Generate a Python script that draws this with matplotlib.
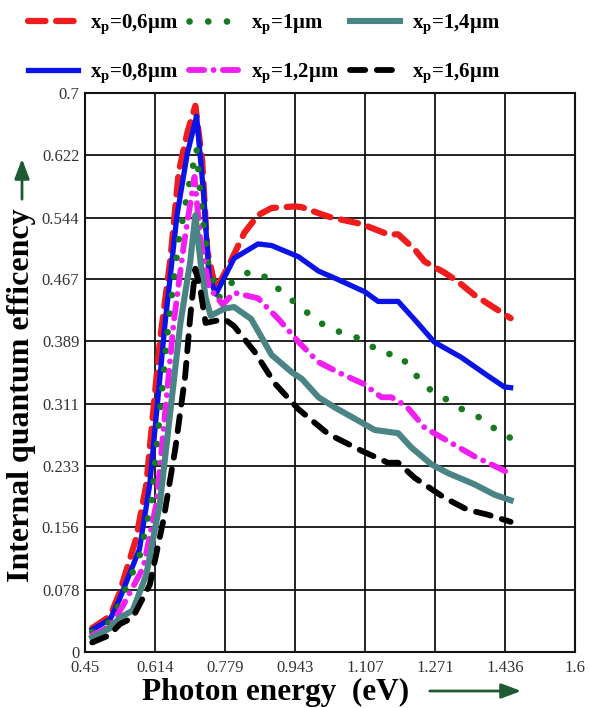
import matplotlib
matplotlib.use("Agg")
import matplotlib.pyplot as plt

plt.rcParams['font.family'] = ['Liberation Serif', 'DejaVu Serif']
plt.rcParams['mathtext.fontset'] = 'custom'
plt.rcParams['mathtext.rm'] = 'Liberation Serif:bold'
plt.rcParams['mathtext.it'] = 'Liberation Serif:bold'
plt.rcParams['mathtext.bf'] = 'Liberation Serif:bold'

# ---------------- data ----------------
x_06 = [0.467, 0.509, 0.531, 0.570, 0.594, 0.610, 0.626, 0.650, 0.670, 0.690, 0.709, 0.725, 0.737, 0.757,
        0.790, 0.824, 0.856, 0.888, 0.943, 0.959, 1.006, 1.029, 1.099, 1.161, 1.185, 1.224, 1.247, 1.294,
        1.325, 1.364, 1.399, 1.449]
y_06 = [0.030, 0.045, 0.074, 0.142, 0.210, 0.300, 0.390, 0.490, 0.601, 0.650, 0.684, 0.615, 0.502, 0.453,
        0.487, 0.525, 0.547, 0.556, 0.558, 0.557, 0.548, 0.544, 0.536, 0.523, 0.523, 0.504, 0.489, 0.475,
        0.464, 0.447, 0.435, 0.418]

x_08 = [0.467, 0.509, 0.531, 0.578, 0.602, 0.618, 0.638, 0.666, 0.690, 0.712, 0.729, 0.741, 0.757, 0.800,
        0.856, 0.888, 0.951, 0.998, 1.037, 1.107, 1.138, 1.185, 1.224, 1.270, 1.333, 1.395, 1.434, 1.449]
y_08 = [0.028, 0.041, 0.066, 0.129, 0.210, 0.300, 0.412, 0.547, 0.624, 0.671, 0.570, 0.471, 0.448, 0.493,
        0.511, 0.509, 0.495, 0.477, 0.468, 0.451, 0.439, 0.439, 0.416, 0.388, 0.369, 0.346, 0.332, 0.331]

x_10 = [0.467, 0.509, 0.531, 0.578, 0.606, 0.626, 0.646, 0.670, 0.697, 0.712, 0.725, 0.741, 0.765, 0.800,
        0.840, 0.880, 0.916, 0.955, 0.990, 1.033, 1.076, 1.115, 1.146, 1.189, 1.224, 1.259, 1.302, 1.341,
        1.383, 1.422, 1.449]
y_10 = [0.025, 0.038, 0.061, 0.120, 0.187, 0.300, 0.412, 0.516, 0.592, 0.630, 0.547, 0.480, 0.444, 0.466,
        0.477, 0.468, 0.448, 0.433, 0.416, 0.403, 0.397, 0.386, 0.374, 0.372, 0.348, 0.329, 0.315, 0.302,
        0.292, 0.275, 0.268]

x_12 = [0.467, 0.509, 0.538, 0.587, 0.618, 0.634, 0.658, 0.682, 0.707, 0.721, 0.741, 0.773, 0.800, 0.856,
        0.904, 0.955, 0.998, 1.053, 1.103, 1.146, 1.169, 1.204, 1.247, 1.302, 1.364, 1.411, 1.449]
y_12 = [0.021, 0.032, 0.057, 0.106, 0.187, 0.277, 0.412, 0.510, 0.595, 0.516, 0.457, 0.435, 0.450, 0.443,
        0.417, 0.386, 0.363, 0.348, 0.336, 0.319, 0.319, 0.308, 0.281, 0.264, 0.245, 0.233, 0.223]

x_14 = [0.467, 0.509, 0.532, 0.562, 0.594, 0.626, 0.650, 0.674, 0.697, 0.709, 0.721, 0.733, 0.745, 0.777,
        0.800, 0.840, 0.888, 0.936, 0.959, 0.998, 1.037, 1.107, 1.130, 1.185, 1.216, 1.263, 1.302, 1.364,
        1.411, 1.449]
y_14 = [0.018, 0.030, 0.043, 0.052, 0.097, 0.187, 0.300, 0.412, 0.489, 0.547, 0.489, 0.444, 0.421, 0.430,
        0.432, 0.417, 0.372, 0.350, 0.342, 0.319, 0.306, 0.285, 0.278, 0.274, 0.256, 0.235, 0.224, 0.210,
        0.197, 0.190]

x_16 = [0.467, 0.507, 0.532, 0.562, 0.602, 0.634, 0.662, 0.685, 0.697, 0.709, 0.721, 0.733, 0.777, 0.800,
        0.848, 0.896, 0.951, 1.021, 1.099, 1.161, 1.185, 1.224, 1.294, 1.348, 1.395, 1.449]
y_16 = [0.012, 0.021, 0.035, 0.043, 0.084, 0.165, 0.255, 0.345, 0.420, 0.480, 0.453, 0.412, 0.417, 0.408,
        0.376, 0.336, 0.304, 0.273, 0.252, 0.237, 0.237, 0.218, 0.193, 0.178, 0.172, 0.163]

labels = [r'x$_{\rm p}$=0,6μm', r'x$_{\rm p}$=0,8μm', r'x$_{\rm p}$=1μm',
          r'x$_{\rm p}$=1,2μm', r'x$_{\rm p}$=1,4μm', r'x$_{\rm p}$=1,6μm']

xtick_labels = ['0.45', '0.614', '0.779', '0.943', '1.107', '1.271', '1.436', '1.6']
ytick_labels = ['0', '0.078', '0.156', '0.233', '0.311', '0.389', '0.467', '0.544', '0.622', '0.7']

# ---------------- figure ----------------
fig = plt.figure(figsize=(5.9, 7.08), dpi=100)
ax = fig.add_axes([85 / 590, 1 - 652 / 708, 490 / 590, 559 / 708])

lw = 4.2
ax.plot(x_06, y_06, color='#ee1c1c', lw=4.5, dashes=(2.8, 1.7), dash_capstyle='round', label=labels[0], zorder=3)
ax.plot(x_08, y_08, color='#0a14e6', lw=3.8, label=labels[1], zorder=4)
ax.plot(x_10, y_10, color='#167a1e', lw=4.8, dashes=(0.01, 2.8), dash_capstyle='round', label=labels[2], zorder=5)
ax.plot(x_12, y_12, color='#f01ef0', lw=lw, dashes=(2.6, 1.6, 0.01, 1.6), dash_capstyle='round', label=labels[3], zorder=6)
ax.plot(x_14, y_14, color='#4b8484', lw=4.4, label=labels[4], zorder=7)
ax.plot(x_16, y_16, color='#000000', lw=lw, dashes=(2.6, 2.0), dash_capstyle='round', label=labels[5], zorder=8)

ax.set_xlim(0.45, 1.6)
ax.set_ylim(0, 0.7)
ax.set_xticks([float(t) for t in xtick_labels])
ax.set_xticklabels(xtick_labels)
ax.set_yticks([float(t) for t in ytick_labels])
ax.set_yticklabels(ytick_labels)
ax.tick_params(length=0, labelsize=12, labelcolor='#333333')
ax.tick_params(axis='x', pad=6)
ax.tick_params(axis='y', pad=4)
ax.grid(True, color='#111111', lw=1.3)
ax.set_axisbelow(True)
for s in ax.spines.values():
    s.set_linewidth(1.5)
    s.set_color('#111111')

fig.text(22 / 590, 1 - 395 / 708, 'Internal quantum efficency', rotation=90, fontsize=23,
         fontweight='bold', ha='center', va='center')
fig.text(276 / 590, 1 - 692 / 708, 'Photon energy  (eV)', fontsize=22.5, fontweight='bold',
         ha='center', va='center')

arrow_color = '#1e5a32'
ax.annotate('', xy=(524, 708 - 691), xytext=(427, 708 - 691), xycoords='figure pixels',
            textcoords='figure pixels',
            arrowprops=dict(arrowstyle='-|>,head_length=1.2,head_width=0.45', color=arrow_color, lw=2))
ax.annotate('', xy=(22, 708 - 156), xytext=(22, 708 - 202), xycoords='figure pixels',
            textcoords='figure pixels',
            arrowprops=dict(arrowstyle='-|>,head_length=1.2,head_width=0.45', color=arrow_color, lw=2))

fig.legend(loc='upper left', bbox_to_anchor=(28 / 590, 1 - 13 / 708), ncol=3, frameon=False,
           prop={'size': 15, 'weight': 'bold'}, handlelength=2.4, handletextpad=0.6,
           columnspacing=0.5, labelspacing=1.2, borderaxespad=0, borderpad=0)

fig.savefig('out.png', dpi=100)
